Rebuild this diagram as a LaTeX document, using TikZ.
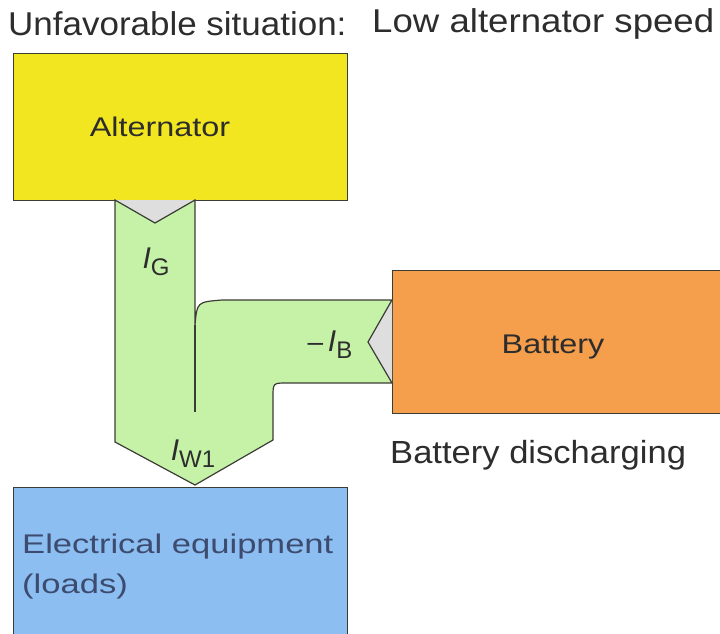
\documentclass[tikz,border=0pt]{standalone}
\usepackage{fontspec}
\setmainfont{Liberation Sans}
\newfontfamily\widefont[FakeStretch=1.2]{Liberation Sans}
\newfontfamily\loadfont[FakeStretch=1.28]{Liberation Sans}
\newfontfamily\midfont[FakeStretch=1.08]{Liberation Sans}
\newfontfamily\titlefont[FakeStretch=1.06]{Liberation Sans}
\newfontfamily\titlewidefont[FakeStretch=1.11]{Liberation Sans}
\definecolor{altyellow}{RGB}{242,230,32}
\definecolor{batorange}{RGB}{245,158,76}
\definecolor{loadblue}{RGB}{140,190,242}
\definecolor{flowgreen}{RGB}{198,242,168}
\definecolor{notchgrey}{RGB}{222,222,222}
\definecolor{edgegrey}{RGB}{60,60,55}
\definecolor{txtdark}{RGB}{45,45,45}
\definecolor{txtblue}{RGB}{60,75,110}
\newcommand{\curlab}[1]{{\fontsize{30}{30}\selectfont\itshape I}\raisebox{-7pt}{\fontsize{24}{24}\selectfont #1}}
\begin{document}
\begin{tikzpicture}[x=1pt,y=-1pt,
  box/.style={draw=edgegrey,line width=1.2pt,inner sep=0pt,anchor=north west},
  title/.style={font=\titlefont\fontsize{33}{36}\selectfont,text=txtdark,inner sep=0pt,anchor=west},
  boxtext/.style={font=\widefont\fontsize{27}{30}\selectfont,inner sep=0pt},
  curtext/.style={inner sep=0pt,text=txtdark},
  flow/.style={fill=flowgreen,draw=edgegrey,line width=1.2pt,line join=miter},
  notch/.style={fill=notchgrey,draw=none}]
\useasboundingbox (0,0) rectangle (720,634);
% titles
\node[title] (t1) at (8,24) {Unfavorable situation:};
\node[title,font=\titlewidefont\fontsize{33}{36}\selectfont] (t2) at (372,24) {Low alternator speed};
% boxes
\node[box,fill=altyellow,minimum width=334pt,minimum height=147pt] (alt) at (13,53) {};
\node[box,fill=batorange,minimum width=335pt,minimum height=143pt] (bat) at (392,270) {};
\node[box,fill=loadblue,minimum width=334pt,minimum height=160pt] (load) at (13,487) {};
% box texts
\node[boxtext,text=txtdark] (altt) at (160,127) {Alternator};
\node[boxtext,text=txtdark] (batt) at (553,347) {Battery};
\node[font=\loadfont\fontsize{27}{30}\selectfont,inner sep=0pt,text=txtblue,anchor=west,align=left] (loadt) at (22,567) {Electrical equipment\\[10pt](loads)};
\node[font=\midfont\fontsize{32}{34}\selectfont,text=txtdark,inner sep=0pt,anchor=west] (disch) at (390,455) {Battery discharging};
% notches
\fill[notchgrey] (115,200) -- (155,223) -- (195,200) -- cycle;
\fill[notchgrey] (392,300) -- (368,342) -- (392,383) -- cycle;
% green flow shape
\draw[flow] (115,200) -- (155,223) -- (195,200) -- (195,325)
  .. controls (197,302) .. (222,300) -- (392,300) -- (368,342) -- (392,383)
  -- (287,383) .. controls (273,383) .. (273,397) -- (273,440)
  -- (195,485) -- (115,442) -- cycle;
\draw[edgegrey,line width=1.2pt] (195,325) -- (195,412);
% current labels
\node[curtext] (ig) at (156,262) {\curlab{G}};
\node[curtext] (ib) at (330,345) {{\fontsize{28}{28}\selectfont --\,}\curlab{B}};
\node[curtext] (iw) at (193,454) {\curlab{W1}};
\end{tikzpicture}
\end{document}
